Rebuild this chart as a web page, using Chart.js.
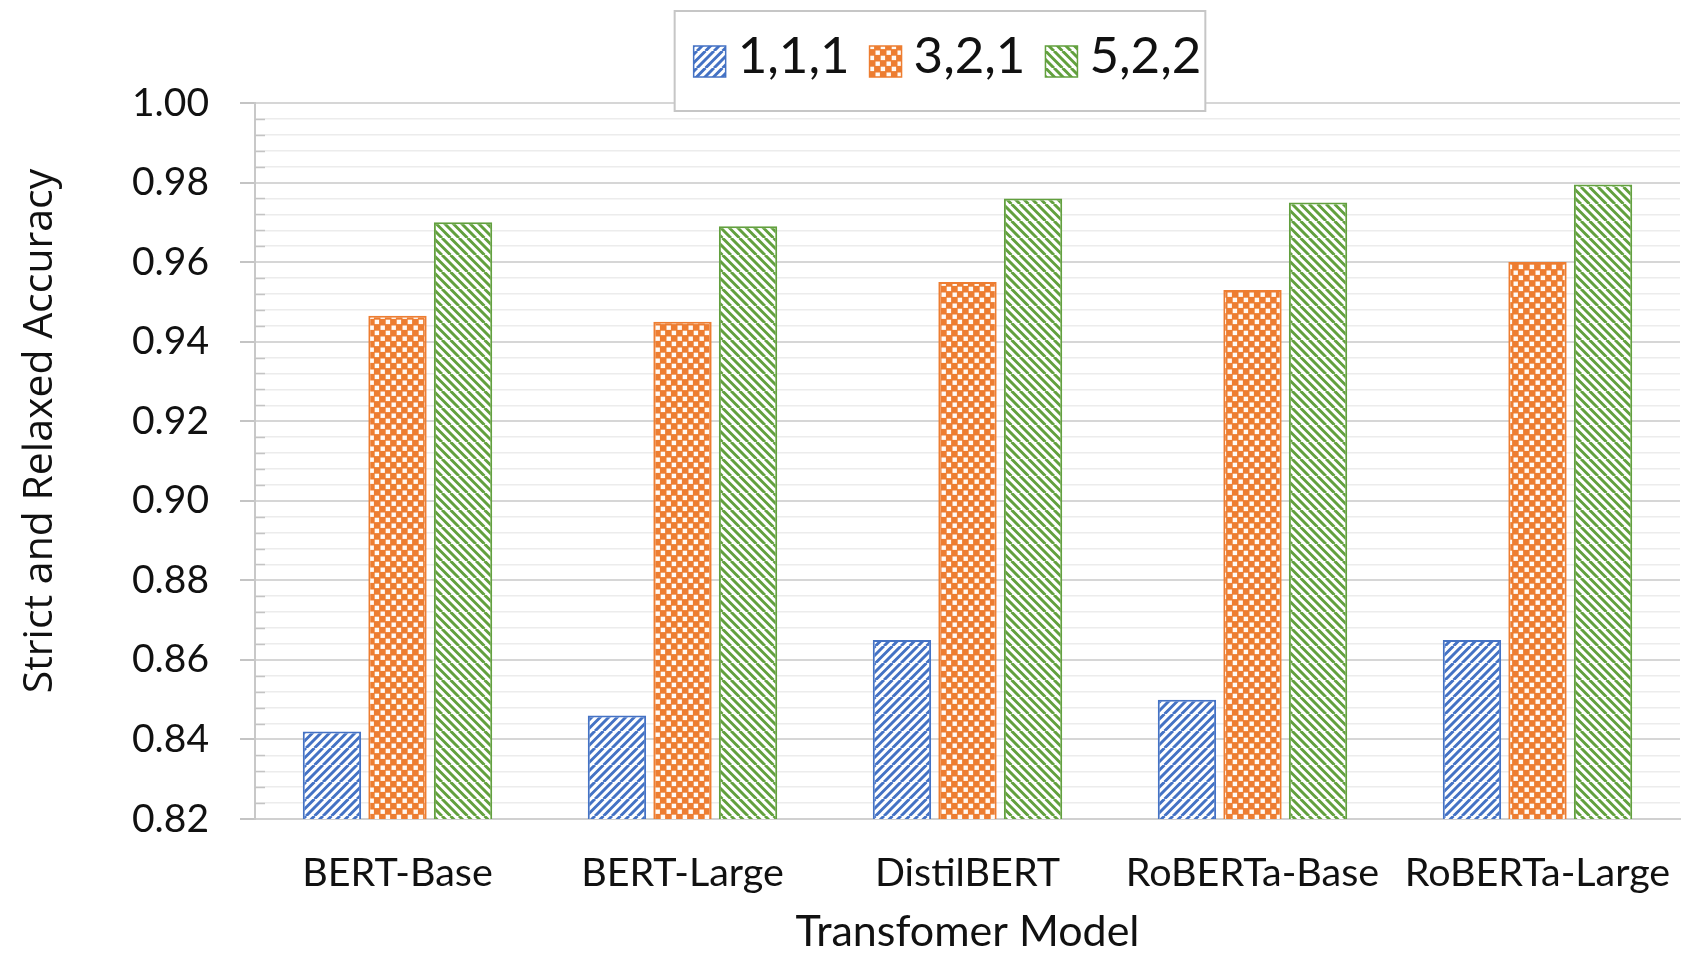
<!DOCTYPE html>
<html>
<head>
<meta charset="utf-8">
<script src="https://cdn.jsdelivr.net/npm/chart.js@4/dist/chart.umd.min.js"></script>
<style>
  html, body { margin: 0; padding: 0; background: #ffffff; }
  #wrap { width: 1702px; height: 954px; position: relative; }
  canvas { display: block; }
</style>
</head>
<body>
<div id="wrap"><canvas id="chart" width="1702" height="954"></canvas></div>
<script>
// ---- data ----
const categories = ['BERT-Base', 'BERT-Large', 'DistilBERT', 'RoBERTa-Base', 'RoBERTa-Large'];
const seriesNames = ['1,1,1', '3,2,1', '5,2,2'];
const values111 = [0.842, 0.846, 0.865, 0.850, 0.865];
const values321 = [0.9465, 0.945, 0.955, 0.953, 0.960];
const values522 = [0.970, 0.969, 0.976, 0.975, 0.9795];
const yTickLabels = ['0.82', '0.84', '0.86', '0.88', '0.90', '0.92', '0.94', '0.96', '0.98', '1.00'];
const yMin = 0.82, yMax = 1.00, yMinorStep = 0.004, minorPerMajor = 5;
const xTitle = 'Transfomer Model';
const yTitle = 'Strict and Relaxed Accuracy';

// ---- styles ----
const BLUE = '#4472C4', ORANGE = '#ED7D31', GREEN = '#62A03E';
const FONT = 'Lato, "Noto Sans", sans-serif';

// diagonal hatching: dir = 1 for "/", -1 for "\"
function stripePattern(color, dir, period, width) {
  const T = period * 2;
  const c = document.createElement('canvas');
  c.width = c.height = T;
  const g = c.getContext('2d');
  g.fillStyle = '#ffffff';
  g.fillRect(0, 0, T, T);
  g.strokeStyle = color;
  g.lineWidth = width;
  g.beginPath();
  for (let x0 = -2 * T; x0 <= 2 * T; x0 += period) {
    if (dir > 0) { g.moveTo(x0, T); g.lineTo(x0 + T, 0); }
    else { g.moveTo(x0, 0); g.lineTo(x0 + T, T); }
  }
  g.stroke();
  return g.createPattern(c, 'repeat');
}

// checker board of white squares over the series colour
function checkerPattern(color, cell, hole) {
  const T = cell * 2;
  const c = document.createElement('canvas');
  c.width = c.height = T;
  const g = c.getContext('2d');
  g.fillStyle = color;
  g.fillRect(0, 0, T, T);
  g.fillStyle = '#fffaf5';
  const o = (cell - hole) / 2;
  g.fillRect(o, o, hole, hole);
  g.fillRect(cell + o, cell + o, hole, hole);
  return g.createPattern(c, 'repeat');
}

const isMajor = (i) => i % minorPerMajor === 0;

// short inner ticks on the minor steps of the value axis
const minorTicks = {
  id: 'minorTicks',
  afterDraw(chart) {
    const y = chart.scales.y, ctx = chart.ctx;
    ctx.save();
    ctx.strokeStyle = '#c4c4c4';
    ctx.lineWidth = 1.5;
    y.ticks.forEach((t, i) => {
      if (isMajor(i)) return;
      const py = Math.round(y.getPixelForValue(t.value)) + 0.5;
      ctx.beginPath();
      ctx.moveTo(chart.chartArea.left, py);
      ctx.lineTo(chart.chartArea.left + 10, py);
      ctx.stroke();
    });
    ctx.restore();
  }
};

// rotated value-axis title
const yTitlePlugin = {
  id: 'yTitlePlugin',
  afterDraw(chart) {
    const ctx = chart.ctx;
    ctx.save();
    ctx.translate(40, 431);
    ctx.rotate(-Math.PI / 2);
    ctx.font = '41px "Open Sans", Lato, sans-serif';
    ctx.fillStyle = '#111111';
    ctx.textAlign = 'center';
    ctx.textBaseline = 'middle';
    ctx.fillText(yTitle, 0, 0);
    ctx.restore();
  }
};

// framed legend floating over the top of the plot
const boxedLegend = {
  id: 'boxedLegend',
  afterDraw(chart) {
    const L = { cx: 940, top: 11, height: 100, padL: 19, padR: 4, sw: 32, gapText: 12, gapItem: 20, size: 51 };
    const ctx = chart.ctx;
    ctx.save();
    ctx.font = L.size + 'px ' + FONT;
    const dsList = chart.data.datasets;
    const widths = dsList.map(d => ctx.measureText(d.label).width);
    const total = L.padL + L.padR + widths.reduce((a, b) => a + b, 0) + dsList.length * (L.sw + L.gapText) + (dsList.length - 1) * L.gapItem;
    const left = L.cx - total / 2;
    ctx.fillStyle = '#ffffff';
    ctx.fillRect(left, L.top, total, L.height);
    ctx.strokeStyle = '#c6c6c6';
    ctx.lineWidth = 2;
    ctx.strokeRect(left, L.top, total, L.height);
    const cy = L.top + L.height / 2;
    let x = left + L.padL;
    dsList.forEach((d, i) => {
      ctx.fillStyle = d.backgroundColor;
      ctx.fillRect(x, cy - L.sw / 2 + 1, L.sw, L.sw - 1);
      ctx.strokeStyle = d.borderColor;
      ctx.lineWidth = 1.5;
      ctx.strokeRect(x, cy - L.sw / 2 + 1, L.sw, L.sw - 1);
      x += L.sw + L.gapText;
      ctx.fillStyle = '#111111';
      ctx.textAlign = 'left';
      ctx.textBaseline = 'middle';
      ctx.fillText(d.label, x, cy - 4);
      x += widths[i] + L.gapItem;
    });
    ctx.restore();
  }
};

const fills = [
  stripePattern(BLUE, 1, 8.5, 3.0),
  checkerPattern(ORANGE, 5.8, 4.4),
  stripePattern(GREEN, -1, 8.5, 3.0)
];
const borders = [BLUE, ORANGE, GREEN];
const seriesValues = [values111, values321, values522];

new Chart(document.getElementById('chart'), {
  type: 'bar',
  data: {
    labels: categories,
    datasets: seriesNames.map((name, i) => ({
      label: name,
      data: seriesValues[i],
      backgroundColor: fills[i],
      borderColor: borders[i],
      borderWidth: 2,
      borderSkipped: false,
      categoryPercentage: 0.69,
      barPercentage: 0.89
    }))
  },
  options: {
    responsive: false,
    animation: false,
    devicePixelRatio: 1,
    layout: { padding: { top: 103, right: 22, bottom: 0, left: 0 } },
    plugins: { legend: { display: false }, tooltip: { enabled: false } },
    scales: {
      x: {
        grid: { display: false },
        border: { display: true, color: '#d0d0d0', width: 2 },
        ticks: { color: '#111111', font: { family: FONT, size: 39.5 }, padding: 23, maxRotation: 0 },
        title: { display: true, text: xTitle, color: '#111111', font: { family: FONT, size: 43, lineHeight: 1.0 }, padding: { top: 0, bottom: 0 } },
        afterFit(scale) { scale.height = 135; }
      },
      y: {
        min: yMin,
        max: yMax,
        ticks: {
          stepSize: yMinorStep,
          autoSkip: false,
          color: '#111111',
          font: { family: FONT, size: 39 },
          padding: 31,
          callback: (v, i) => isMajor(i) ? yTickLabels[i / minorPerMajor] : ''
        },
        grid: {
          color: (c) => isMajor(c.index) ? '#d6d6d6' : '#ececec',
          lineWidth: (c) => isMajor(c.index) ? 2 : 1.5,
          tickColor: (c) => isMajor(c.index) ? '#c4c4c4' : 'rgba(0,0,0,0)',
          tickLength: 15,
          drawTicks: true
        },
        border: { display: true, color: '#c8c8c8', width: 2 },
        afterFit(scale) { scale.width = 255; }
      }
    }
  },
  plugins: [minorTicks, yTitlePlugin, boxedLegend]
});
</script>
</body>
</html>
